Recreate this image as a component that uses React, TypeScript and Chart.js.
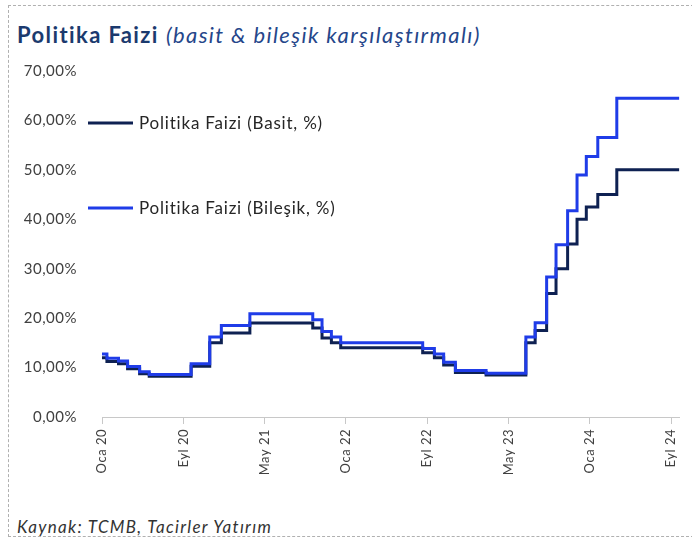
import React, { useEffect, useRef } from "react";
import { Chart, registerables } from "chart.js";

Chart.register(...registerables);

// Policy-rate decision dates (first point = start of series, last = end of series)
const dates: string[] = [
  "2020-01-01", "2020-01-16", "2020-02-19", "2020-03-17", "2020-04-22", "2020-05-21",
  "2020-09-24", "2020-11-19", "2020-12-24", "2021-03-18", "2021-09-23", "2021-10-21",
  "2021-11-18", "2021-12-16", "2022-08-18", "2022-09-22", "2022-10-20", "2022-11-24",
  "2023-02-23", "2023-06-22", "2023-07-20", "2023-08-24", "2023-09-21", "2023-10-26",
  "2023-11-23", "2023-12-21", "2024-01-25", "2024-03-21", "2024-09-25",
];

// Politika Faizi (Basit, %)
const basit: number[] = [
  12, 11.25, 10.75, 9.75, 8.75, 8.25,
  10.25, 15, 17, 19, 18, 16,
  15, 14, 13, 12, 10.5, 9,
  8.5, 15, 17.5, 25, 30, 35,
  40, 42.5, 45, 50, 50,
];

// Politika Faizi (Bileşik, %)
const bilesik: number[] = [
  12.73, 11.89, 11.34, 10.23, 9.14, 8.59,
  10.78, 16.16, 18.5, 20.88, 19.69, 17.32,
  16.16, 15.01, 13.86, 12.73, 11.06, 9.41,
  8.86, 16.16, 19.09, 28.33, 34.87, 41.74,
  48.96, 52.7, 56.53, 64.48, 64.48,
];

const tickLabels: string[] = ["Oca 20", "Eyl 20", "May 21", "Oca 22", "Eyl 22", "May 23", "Oca 24", "Eyl 24"];
const tickMonths: number[] = [0, 8, 16, 24, 32, 40, 48, 56];

const seriesNames = ["Politika Faizi (Basit, %)", "Politika Faizi (Bileşik, %)"];
const colors = ["#0E2152", "#1F3CE8"];

function monthPos(s: string): number {
  const [y, m, d] = s.split("-").map(Number);
  const dim = new Date(y, m, 0).getDate();
  return (y - 2020) * 12 + (m - 1) + (d - 1) / dim;
}

const FONT = "Lato, 'Open Sans', sans-serif";

const spacingPlugin = {
  id: "spacing",
  beforeUpdate(chart: any) {
    chart.ctx.letterSpacing = "0.5px";
  },
  beforeDraw(chart: any) {
    chart.ctx.letterSpacing = "0.5px";
  },
};

const legendPlugin = {
  id: "customLegend",
  afterDraw(chart: any) {
    const { ctx, chartArea } = chart;
    const offsets = [52, 137];
    ctx.save();
    ctx.letterSpacing = "0.8px";
    offsets.forEach((off, i) => {
      const y = chartArea.top + off;
      const x0 = chartArea.left - 14;
      ctx.strokeStyle = colors[i];
      ctx.lineWidth = 3;
      ctx.beginPath();
      ctx.moveTo(x0, y);
      ctx.lineTo(x0 + 45, y);
      ctx.stroke();
      ctx.fillStyle = "#262626";
      ctx.font = `17px ${FONT}`;
      ctx.textBaseline = "middle";
      ctx.fillText(seriesNames[i], x0 + 51, y + 1);
    });
    ctx.restore();
  },
};

export default function App() {
  const ref = useRef<HTMLCanvasElement>(null);

  useEffect(() => {
    document.body.style.margin = "0";
    const xs = dates.map(monthPos);
    const chart = new Chart(ref.current!, {
      type: "line",
      data: {
        datasets: [
          {
            label: seriesNames[0],
            data: xs.map((x, i) => ({ x, y: basit[i] })),
            borderColor: colors[0],
            borderWidth: 3,
            pointRadius: 0,
            stepped: true,
            order: 2,
          },
          {
            label: seriesNames[1],
            data: xs.map((x, i) => ({ x, y: bilesik[i] })),
            borderColor: colors[1],
            borderWidth: 3,
            pointRadius: 0,
            stepped: true,
            order: 1,
          },
        ],
      },
      options: {
        animation: false,
        responsive: false,
        layout: { padding: { top: 20, right: 12, left: 10, bottom: 0 } },
        plugins: { legend: { display: false }, tooltip: { enabled: false } },
        scales: {
          x: {
            type: "linear",
            min: 0,
            max: monthPos(dates[dates.length - 1]),
            afterBuildTicks: (axis: any) => {
              axis.ticks = tickMonths.map((v) => ({ value: v }));
            },
            afterFit: (axis: any) => {
              axis.height = 60;
            },
            ticks: {
              autoSkip: false,
              minRotation: 90,
              maxRotation: 90,
              padding: 5,
              color: "#404040",
              font: { family: FONT, size: 13 },
              callback: (v: any) => tickLabels[tickMonths.indexOf(Number(v))] ?? "",
            },
            grid: { drawOnChartArea: false, color: "#C8C8C8", tickLength: 7 },
            border: { color: "#C8C8C8" },
          },
          y: {
            min: 0,
            max: 70,
            afterFit: (axis: any) => {
              axis.width = 92;
            },
            ticks: {
              stepSize: 10,
              color: "#404040",
              font: { family: FONT, size: 15 },
              padding: 17,
              callback: (v: any) => Number(v).toFixed(2).replace(".", ",") + "%",
            },
            grid: { display: false },
            border: { display: false },
          },
        },
      },
      plugins: [spacingPlugin, legendPlugin],
    });
    return () => chart.destroy();
  }, []);

  return (
    <div style={{ position: "relative", width: 692, height: 540, background: "#fff", fontFamily: FONT }}>
      <div style={{ position: "absolute", left: 8, top: 5, right: -2, bottom: 3, borderTop: "1.5px dashed #B0B0B0", borderLeft: "1.5px dashed #B0B0B0", borderBottom: "1.5px dashed #B0B0B0" }} />
      <div style={{ position: "absolute", left: 17, top: 21, fontSize: 22, letterSpacing: "1.4px", color: "#1B3A6E", whiteSpace: "nowrap" }}>
        <span style={{ fontWeight: 700 }}>Politika Faizi</span>{" "}
        <span style={{ fontStyle: "italic", color: "#25468A" }}>(basit &amp; bileşik karşılaştırmalı)</span>
      </div>
      <canvas ref={ref} width={692} height={432} style={{ position: "absolute", left: 0, top: 45 }} />
      <div style={{ position: "absolute", left: 17, top: 516, fontSize: 17, letterSpacing: "1.3px", fontStyle: "italic", color: "#333" }}>
        Kaynak: TCMB, Tacirler Yatırım
      </div>
    </div>
  );
}
